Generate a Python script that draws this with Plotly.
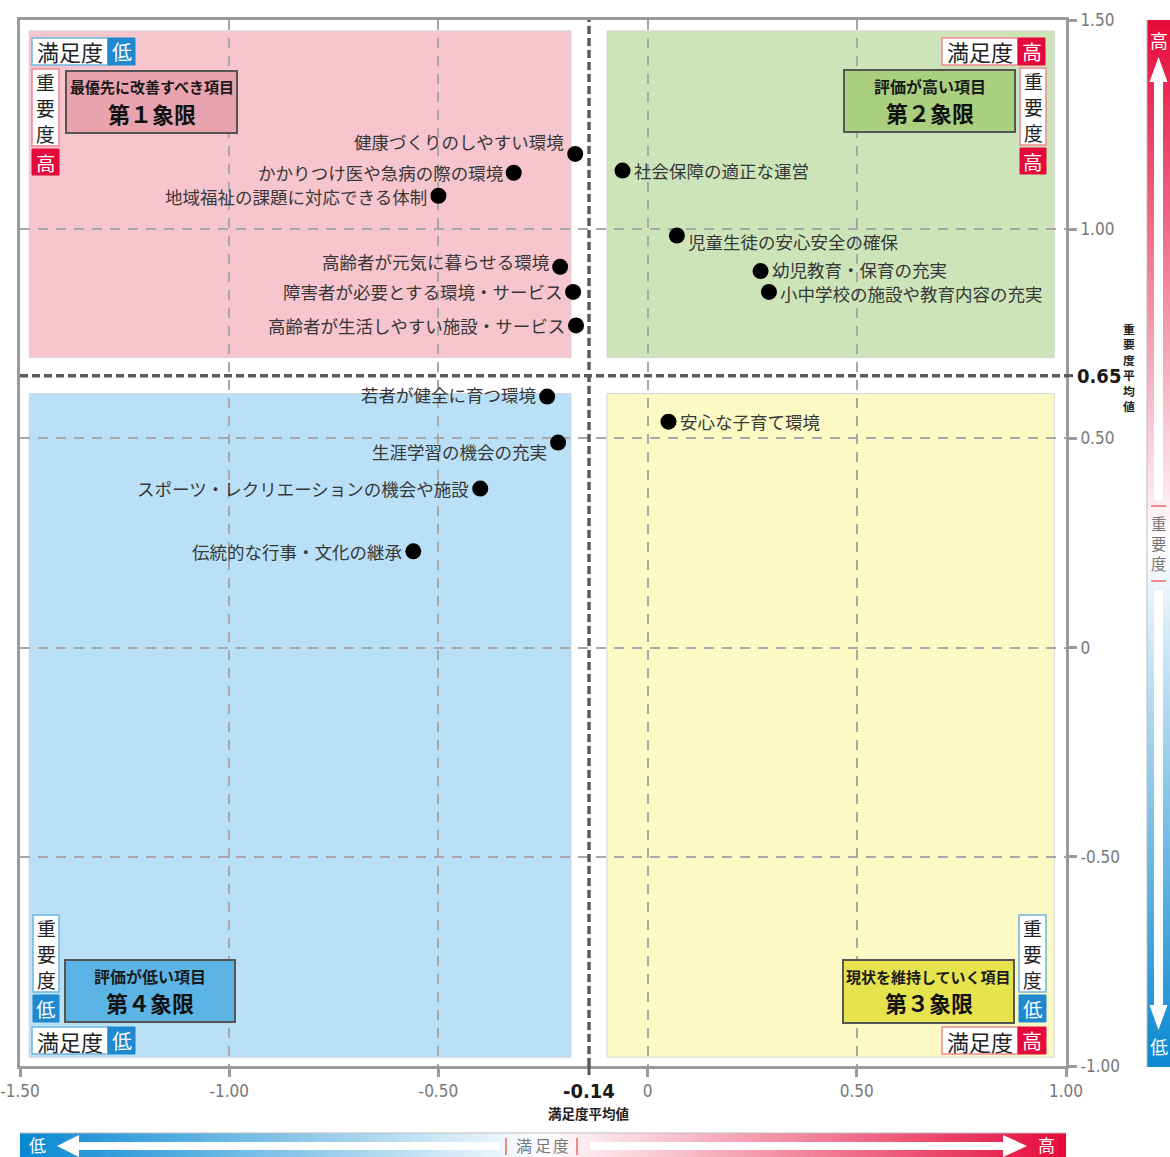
import plotly.graph_objects as go

# ---------------- data ----------------
ITEMS = [
    "健康づくりのしやすい環境",
    "かかりつけ医や急病の際の環境",
    "地域福祉の課題に対応できる体制",
    "高齢者が元気に暮らせる環境",
    "障害者が必要とする環境・サービス",
    "高齢者が生活しやすい施設・サービス",
    "社会保障の適正な運営",
    "児童生徒の安心安全の確保",
    "幼児教育・保育の充実",
    "小中学校の施設や教育内容の充実",
    "若者が健全に育つ環境",
    "生涯学習の機会の充実",
    "スポーツ・レクリエーションの機会や施設",
    "伝統的な行事・文化の継承",
    "安心な子育て環境",
]
SATISFACTION = [-0.173, -0.32, -0.50, -0.209, -0.178, -0.171, -0.06, 0.07, 0.27, 0.29,
                -0.24, -0.214, -0.40, -0.56, 0.05]
IMPORTANCE = [1.18, 1.135, 1.08, 0.91, 0.85, 0.77, 1.14, 0.985, 0.90, 0.85,
              0.60, 0.49, 0.38, 0.23, 0.54]
MEAN_SAT = -0.14
MEAN_IMP = 0.65
X_TICKS = [-1.5, -1.0, -0.5, 0, 0.5, 1.0]
X_TICK_TEXT = ["-1.50", "-1.00", "-0.50", "0", "0.50", "1.00"]
Y_TICKS = [-1.0, -0.5, 0, 0.5, 1.0, 1.5]
Y_TICK_TEXT = ["-1.00", "-0.50", "0", "0.50", "1.00", "1.50"]

# label placement (style only)
LABEL_SIDE = ["left", "left", "left", "left", "left", "left", "right", "right", "right", "right",
              "left", "left", "left", "left", "right"]
LABEL_DY = [12, 0, -1, 5, 0, 0, 0, -6, 1.5, -1.5, 2, -9, 0, 0, 0]

JP = "Noto Sans CJK JP"
NUM = "Liberation Sans Narrow, DejaVu Sans Condensed, Roboto, sans-serif"

W, H = 1170, 1157
L, T, R, B = 20, 20, 1066, 1066


def fx(px):
    return (px - L) / (R - L)


def fy(py):
    return (B - py) / (B - T)


shapes = []
annotations = []


def rect_px(x0, y0, x1, y1, fill, line=None, lw=0, layer="above"):
    shapes.append(dict(type="rect", xref="paper", yref="paper",
                       x0=fx(x0), x1=fx(x1), y0=fy(y1), y1=fy(y0),
                       fillcolor=fill, line=dict(color=line or fill, width=lw), layer=layer))


def line_px(x0, y0, x1, y1, color, width):
    shapes.append(dict(type="line", xref="paper", yref="paper",
                       x0=fx(x0), x1=fx(x1), y0=fy(y0), y1=fy(y1),
                       line=dict(color=color, width=width), layer="above"))


def poly_px(pts, fill):
    p = "M " + " L ".join(f"{fx(a):.5f},{fy(b):.5f}" for a, b in pts) + " Z"
    shapes.append(dict(type="path", xref="paper", yref="paper", path=p,
                       fillcolor=fill, line=dict(width=0), layer="above"))


def text_px(x, y, s, size, color, bold=False, family=JP, xanchor="center"):
    annotations.append(dict(xref="paper", yref="paper", x=fx(x), y=fy(y),
                            text=f"<b>{s}</b>" if bold else s, showarrow=False,
                            xanchor=xanchor, yanchor="middle", borderpad=0,
                            font=dict(size=size, color=color, family=family)))


def vtext_px(x, y_center, s, size, color, bold=False):
    # vertical (stacked) text; line pitch = 1.3 * size
    text_px(x, y_center, "<br>".join(s), size, color, bold=bold)


RED = "#e5083b"
BLUE = "#1f88cf"
PINK_LINE = "#ef8797"
BLUE_LINE = "#6db7e3"

# ---------------- quadrant backgrounds (data coords) ----------------
GAP = 0.043
quads = [
    (-1.478, MEAN_SAT - GAP, MEAN_IMP + GAP, 1.474, "#f6c5cd"),
    (MEAN_SAT + GAP, 0.972, MEAN_IMP + GAP, 1.474, "#cde4b8"),
    (-1.478, MEAN_SAT - GAP, -0.979, MEAN_IMP - GAP, "#b9e0f7"),
    (MEAN_SAT + GAP, 0.972, -0.979, MEAN_IMP - GAP, "#fcf9c4"),
]
for x0, x1, y0, y1, c in quads:
    shapes.append(dict(type="rect", xref="x", yref="y", x0=x0, x1=x1, y0=y0, y1=y1,
                       fillcolor=c, line=dict(color="#d4d4d4", width=1), layer="below"))

# threshold lines
shapes.append(dict(type="line", xref="x", yref="paper", x0=MEAN_SAT, x1=MEAN_SAT, y0=0, y1=1,
                   line=dict(color="#5b5b5b", width=3.5, dash="8px,4px"), layer="above"))
shapes.append(dict(type="line", xref="paper", yref="y", x0=0, x1=1, y0=MEAN_IMP, y1=MEAN_IMP,
                   line=dict(color="#5b5b5b", width=3.5, dash="8px,4px"), layer="above"))
# small ticks for the means
shapes.append(dict(type="line", xref="x", yref="paper", x0=MEAN_SAT, x1=MEAN_SAT, y0=fy(1066), y1=fy(1075),
                   line=dict(color="#555", width=3), layer="above"))
shapes.append(dict(type="line", xref="paper", yref="y", x0=fx(1066), x1=fx(1073), y0=MEAN_IMP, y1=MEAN_IMP,
                   line=dict(color="#555", width=3), layer="above"))


# ---------------- quadrant badges ----------------
def sat_badge(x0, x1, xs, y0, y1, word, hi):
    rect_px(x0, y0, xs, y1, "white", PINK_LINE if hi else BLUE_LINE, 1.5)
    rect_px(xs, y0, x1, y1, RED if hi else BLUE, RED if hi else BLUE, 1)
    text_px((x0 + xs) / 2, (y0 + y1) / 2, "満足度", 22, "#222")
    text_px((xs + x1) / 2, (y0 + y1) / 2, word, 20, "white")


def imp_badge(x0, x1, y0, ys, y1, word, hi):
    rect_px(x0, y0, x1, ys, "white", PINK_LINE if hi else BLUE_LINE, 1.5)
    rect_px(x0, ys + 3, x1, y1, RED if hi else BLUE, RED if hi else BLUE, 1)
    step = (ys - y0) / 3
    for i, ch in enumerate("重要度"):
        text_px((x0 + x1) / 2, y0 + step * (i + 0.5), ch, 18.8, "#222")
    text_px((x0 + x1) / 2, (ys + 3 + y1) / 2, word, 19.5, "white")


def title_box(x0, y0, x1, y1, fill, line1, line2, s1):
    rect_px(x0, y0, x1, y1, fill, "#555555", 2)
    cx = (x0 + x1) / 2
    text_px(cx, y0 + 16, line1, s1, "#1a1a1a", bold=True)
    text_px(cx, y0 + 42, line2, 22, "#111", bold=True)


# Q1
sat_badge(32, 135, 108, 38, 65, "低", False)
imp_badge(32, 59, 69, 146, 175, "高", True)
title_box(66, 71, 237, 133, "#e9a3ae", "最優先に改善すべき項目", "第１象限", 15)
# Q2
sat_badge(942, 1045, 1018, 38, 65, "高", True)
imp_badge(1020, 1046, 68, 145, 174, "高", True)
title_box(844, 70, 1015, 132, "#a9cf7f", "評価が高い項目", "第２象限", 16)
# Q4
imp_badge(33, 59, 915, 992, 1022, "低", False)
title_box(65, 960, 235, 1022, "#5cb4e6", "評価が低い項目", "第４象限", 16)
sat_badge(32, 135, 108, 1027, 1054, "低", False)
# Q3
imp_badge(1019, 1046, 915, 992, 1022, "低", False)
title_box(843, 960, 1014, 1023, "#e7e34f", "現状を維持していく項目", "第３象限", 15)
sat_badge(942, 1046, 1018, 1027, 1054, "高", True)

# ---------------- gradient bars ----------------
RED_RGB = (229, 10, 58)
BLUE_RGB = (8, 136, 210)


def grad(t, a, b):
    # t: 0 -> color a, 0.5 -> white, 1 -> color b
    if t < 0.5:
        s = t / 0.5
        c = a
    else:
        s = (1 - t) / 0.5
        c = b
    return "rgb(%d,%d,%d)" % tuple(round(ci + (255 - ci) * s) for ci in c)


N = 120
# right vertical bar (red top -> blue bottom)
y_top, y_bot = 20, 1067
for i in range(N):
    ya = y_top + (y_bot - y_top) * i / N
    yb = y_top + (y_bot - y_top) * (i + 1) / N + 0.6
    rect_px(1147, ya, 1175, min(yb, y_bot), grad((i + 0.5) / N, RED_RGB, BLUE_RGB))
line_px(1147, 20, 1147, 1067, "#bdbdbd", 1)
# bottom horizontal bar (blue left -> red right)
x_l, x_r = 20, 1066
for i in range(N):
    xa = x_l + (x_r - x_l) * i / N
    xb = x_l + (x_r - x_l) * (i + 1) / N + 0.6
    rect_px(xa, 1133, min(xb, x_r), 1162, grad((i + 0.5) / N, BLUE_RGB, RED_RGB))
line_px(20, 1133, 1066, 1133, "#bdbdbd", 1)

# arrows
rect_px(1154, 80, 1163, 500, "white")
poly_px([(1158.5, 57), (1149.5, 82), (1167.5, 82)], "white")
rect_px(1154, 590, 1163, 1007, "white")
poly_px([(1149.5, 1005), (1167.5, 1005), (1158.5, 1030)], "white")
rect_px(76, 1142, 500, 1150, "white")
poly_px([(57, 1146), (79, 1135), (79, 1157)], "white")
rect_px(590, 1142, 1005, 1150, "white")
poly_px([(1003, 1135), (1003, 1157), (1027, 1146)], "white")

text_px(1158.5, 40, "高", 18, "white")
text_px(1158.5, 1046, "低", 18, "white")
text_px(37, 1144, "低", 17, "white")
text_px(1046, 1144, "高", 17, "white")

# middle labels of bars
line_px(1151, 506, 1166, 506, "#f08a8a", 2)
line_px(1151, 581, 1166, 581, "#f08a8a", 2)
vtext_px(1158.5, 543, "重要度", 15.4, "#777")
line_px(506, 1138, 506, 1155, "#f08a8a", 2)
line_px(577, 1138, 577, 1155, "#f08a8a", 2)
for i, ch in enumerate("満足度"):
    text_px(524 + 18.5 * i, 1145, ch, 16, "#777")

# mean labels
annotations.append(dict(xref="paper", yref="y", x=fx(1076), y=MEAN_IMP, text="<b>0.65</b>",
                        showarrow=False, xanchor="left", yanchor="middle", borderpad=0,
                        font=dict(size=20, color="#1a1a1a", family=NUM)))
vtext_px(1129, 366.5, "重要度平均値", 11.85, "#222", bold=True)
annotations.append(dict(xref="x", yref="paper", x=MEAN_SAT, y=fy(1091), text="<b>-0.14</b>",
                        showarrow=False, xanchor="center", yanchor="middle", borderpad=0,
                        font=dict(size=20, color="#1a1a1a", family=NUM)))
annotations.append(dict(xref="x", yref="paper", x=MEAN_SAT, y=fy(1113), text="<b>満足度平均値</b>",
                        showarrow=False, xanchor="center", yanchor="middle", borderpad=0,
                        font=dict(size=13.5, color="#222", family=JP)))

# point labels
for name, xv, yv, side, dy in zip(ITEMS, SATISFACTION, IMPORTANCE, LABEL_SIDE, LABEL_DY):
    annotations.append(dict(xref="x", yref="y", x=xv, y=yv, text=name, showarrow=False,
                            xanchor="right" if side == "left" else "left", yanchor="middle",
                            xshift=-10 if side == "left" else 10, yshift=dy, borderpad=0,
                            font=dict(size=17.5, color="#383838", family=JP)))

fig = go.Figure()
fig.add_trace(go.Scatter(x=SATISFACTION, y=IMPORTANCE, mode="markers", text=ITEMS,
                         marker=dict(size=16, color="black"), hoverinfo="text", showlegend=False))

axis_common = dict(showgrid=True, gridcolor="#a8a8a8", gridwidth=2, griddash="10px,8px",
                   showline=True, linecolor="#9a9a9a", linewidth=3, mirror=True,
                   ticks="outside", ticklen=8, tickwidth=3, tickcolor="#9a9a9a",
                   tickfont=dict(size=17, color="#777", family=NUM),
                   ticklabeloverflow="allow",
                   zeroline=False, automargin=False, fixedrange=True)

fig.update_layout(
    width=W, height=H,
    margin=dict(l=L, r=W - R, t=T, b=H - B),
    paper_bgcolor="white", plot_bgcolor="white",
    xaxis=dict(range=[-1.5, 1.0], tickvals=X_TICKS, ticktext=X_TICK_TEXT, **axis_common),
    yaxis=dict(range=[-1.0, 1.5], tickvals=Y_TICKS, ticktext=Y_TICK_TEXT, side="right", **axis_common),
    shapes=shapes, annotations=annotations,
    font=dict(family=JP),
    showlegend=False,
)

fig.write_html("out.html", config={"displayModeBar": False},
               post_script="document.body.style.margin='0';document.body.style.overflow='hidden';")
